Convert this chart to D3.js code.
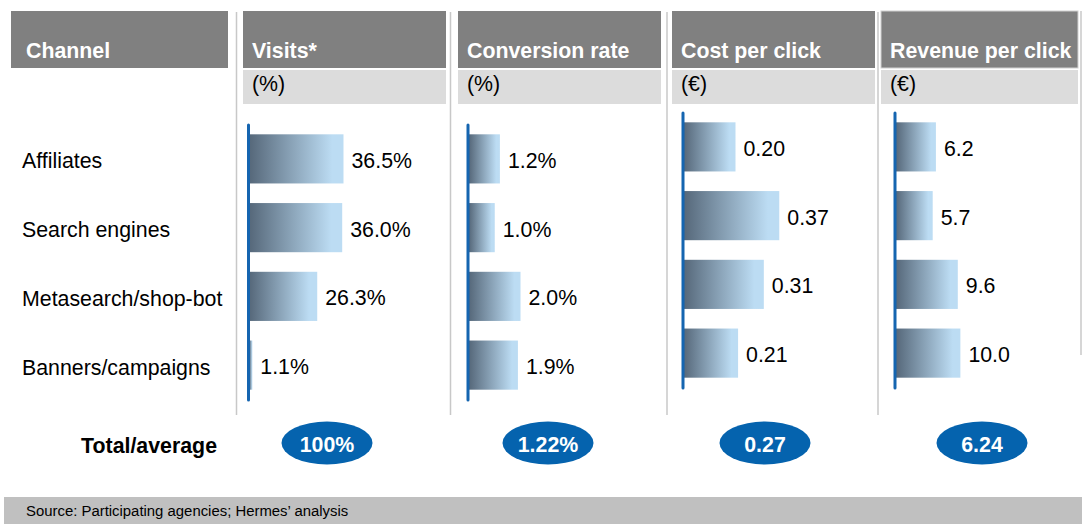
<!DOCTYPE html>
<html>
<head>
<meta charset="utf-8">
<script src="https://cdn.jsdelivr.net/npm/d3@7"></script>
<style>
  body { margin: 0; background: #fff; }
  text { font-family: Arial, "Liberation Sans", sans-serif; }
</style>
</head>
<body>
<div id="chart"></div>
<script>
// Data
const channels = ["Affiliates", "Search engines", "Metasearch/shop-bot", "Banners/campaigns"];
const metrics = ["Visits*", "Conversion rate", "Cost per click", "Revenue per click"];
const units = ["(%)", "(%)", "(€)", "(€)"];
const visits = [36.5, 36.0, 26.3, 1.1];
const conversionRate = [1.2, 1.0, 2.0, 1.9];
const costPerClick = [0.20, 0.37, 0.31, 0.21];
const revenuePerClick = [6.2, 5.7, 9.6, 10.0];
const totals = [100, 1.22, 0.27, 6.24];

const series = [visits, conversionRate, costPerClick, revenuePerClick];
const valueFormats = [d => d3.format(".1f")(d) + "%", d => d3.format(".1f")(d) + "%", d3.format(".2f"), d3.format(".1f")];
const totalFormats = [d => d + "%", d => d3.format(".2f")(d) + "%", d3.format(".2f"), d3.format(".2f")];

// Layout of the four metric columns
const layout = [
    {x0: 243, x1: 446, axisX: 248.5, top: 124, bottom: 400, max: 40, ovalX: 327},
    {x0: 458, x1: 661, axisX: 468, top: 124, bottom: 400, max: 4, ovalX: 548},
    {x0: 672, x1: 875, axisX: 683, top: 112, bottom: 388, max: 0.4, ovalX: 765},
    {x0: 881, x1: 1078, axisX: 895, top: 112, bottom: 388, max: 16, ovalX: 982}
];
const barMax = 103;
const fontSize = 21.33;
const width = 1082, height = 524;

const svg = d3.select("#chart")
    .append("svg")
    .attr("width", width)
    .attr("height", height);

// gradient for the bars
const grad = svg.append("defs").append("linearGradient")
    .attr("id", "barGrad")
    .attr("x1", "0%").attr("x2", "100%").attr("y1", "0%").attr("y2", "0%");
grad.append("stop").attr("offset", "0%").attr("stop-color", "#56687a");
grad.append("stop").attr("offset", "88%").attr("stop-color", "#bcdcf3");
grad.append("stop").attr("offset", "100%").attr("stop-color", "#bcdcf3");

// column separators
[236.5, 450.5, 667, 878].forEach(x => {
    svg.append("line")
        .attr("x1", x).attr("x2", x)
        .attr("y1", 12).attr("y2", 415)
        .attr("stroke", "#c8c8c8")
        .attr("stroke-width", 1.5);
});
svg.append("line")
    .attr("x1", 1081).attr("x2", 1081)
    .attr("y1", 11).attr("y2", 355)
    .attr("stroke", "#c8c8c8")
    .attr("stroke-width", 1.5);

// Channel header
svg.append("rect")
    .attr("x", 11).attr("y", 11)
    .attr("width", 217).attr("height", 57)
    .attr("fill", "#808080");
svg.append("text")
    .attr("x", 26).attr("y", 57.5)
    .attr("fill", "#fff")
    .attr("font-size", fontSize)
    .attr("font-weight", "bold")
    .text("Channel");

// Channel labels, aligned with the visits bands
const yChannel = d3.scaleBand()
    .domain(channels)
    .range([layout[0].top, layout[0].bottom])
    .paddingInner(0.285)
    .paddingOuter(0.15);

svg.append("g")
    .selectAll("text")
    .data(channels)
    .enter().append("text")
    .attr("x", 22)
    .attr("y", d => yChannel(d) + yChannel.bandwidth() / 2)
    .attr("dy", "0.45em")
    .attr("font-size", fontSize)
    .attr("fill", "#000")
    .text(d => d);

// metric columns
layout.forEach((col, i) => {
    const g = svg.append("g");

    g.append("rect")
        .attr("x", col.x0).attr("y", 11)
        .attr("width", col.x1 - col.x0).attr("height", 57)
        .attr("fill", "#808080")
        .attr("stroke", i === 3 ? "#d0d0d0" : "none");
    g.append("text")
        .attr("x", col.x0 + 9).attr("y", 57.5)
        .attr("fill", "#fff")
        .attr("font-size", fontSize)
        .attr("font-weight", "bold")
        .text(metrics[i]);

    g.append("rect")
        .attr("x", col.x0).attr("y", 70)
        .attr("width", col.x1 - col.x0).attr("height", 34)
        .attr("fill", "#dcdcdc");
    g.append("text")
        .attr("x", col.x0 + 9).attr("y", 91)
        .attr("fill", "#000")
        .attr("font-size", fontSize)
        .text(units[i]);

    const x = d3.scaleLinear()
        .domain([0, col.max])
        .range([col.axisX + 1, col.axisX + 1 + barMax]);

    const y = d3.scaleBand()
        .domain(channels)
        .range([col.top, col.bottom])
        .paddingInner(0.285)
        .paddingOuter(0.15);

    const rows = channels.map((c, j) => ({channel: c, value: series[i][j]}));

    g.selectAll(".bar")
        .data(rows)
        .enter().append("rect")
        .attr("class", "bar")
        .attr("x", x(0))
        .attr("y", d => y(d.channel))
        .attr("width", d => x(d.value) - x(0))
        .attr("height", y.bandwidth())
        .attr("fill", "url(#barGrad)");

    g.selectAll(".value")
        .data(rows)
        .enter().append("text")
        .attr("class", "value")
        .attr("x", d => x(d.value) + 8)
        .attr("y", d => y(d.channel) + y.bandwidth() / 2)
        .attr("dy", "0.42em")
        .attr("font-size", fontSize)
        .attr("fill", "#000")
        .text(d => valueFormats[i](d.value));

    // the vertical blue baseline is the domain line of a bare axis
    const axis = g.append("g")
        .attr("transform", `translate(${col.axisX},0)`)
        .call(d3.axisLeft(y).tickSize(0).tickFormat(""));
    axis.select(".domain")
        .attr("stroke", "#1565b0")
        .attr("stroke-width", 3)
        .attr("stroke-linecap", "round")
        .attr("d", `M0,${col.top + 1}V${col.bottom}`);

    // total / average oval
    g.append("ellipse")
        .attr("cx", col.ovalX).attr("cy", 443)
        .attr("rx", 45.5).attr("ry", 21.5)
        .attr("fill", "#0563ae");
    g.append("text")
        .attr("x", col.ovalX).attr("y", 451.5)
        .attr("text-anchor", "middle")
        .attr("fill", "#fff")
        .attr("font-size", fontSize)
        .attr("font-weight", "bold")
        .text(totalFormats[i](totals[i]));
});

svg.append("text")
    .attr("x", 217).attr("y", 453)
    .attr("text-anchor", "end")
    .attr("font-size", fontSize)
    .attr("font-weight", "bold")
    .attr("fill", "#000")
    .text("Total/average");

// source footer
svg.append("rect")
    .attr("x", 4).attr("y", 497)
    .attr("width", width - 4).attr("height", height - 497)
    .attr("fill", "#c0c0c0");
svg.append("text")
    .attr("x", 26).attr("y", 516)
    .attr("font-size", 14.9)
    .attr("fill", "#000")
    .text("Source: Participating agencies; Hermes’ analysis");
</script>
</body>
</html>
